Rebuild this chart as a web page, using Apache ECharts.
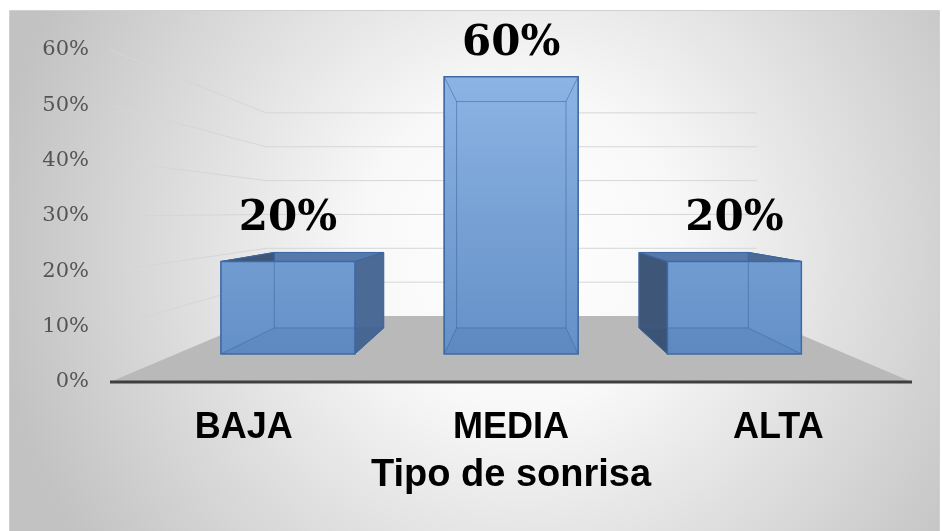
<!DOCTYPE html>
<html><head><meta charset="utf-8">
<script src="https://cdn.jsdelivr.net/npm/echarts@6/dist/echarts.min.js"></script>
<style>html,body{margin:0;padding:0;background:#fff}#c{width:942px;height:531px}</style>
</head><body><div id="c"></div>
<script>
// ---- data ----
const categories = ['BAJA', 'MEDIA', 'ALTA'];
const values = [0.2, 0.6, 0.2];
const yTicks = [0, 0.1, 0.2, 0.3, 0.4, 0.5, 0.6];
const axisTitle = 'Tipo de sonrisa';

// ---- perspective styling ----
const VP = [512, 212];
const S_WALL = 0.612, S_FRONT = 0.835, S_BACK = 0.682;
function proj(p, s) { return [VP[0] + s * (p[0] - VP[0]), VP[1] + s * (p[1] - VP[1])]; }
const pct = v => Math.round(v * 100) + '%';

function renderWall(params, api) {
  const v = api.value(1);
  const cs = params.coordSys;
  const y = api.coord([0, v])[1];
  const xl = cs.x, xr = cs.x + cs.width;
  const bl = proj([xl, y], S_WALL), br = proj([xr, y], S_WALL);
  if (v === 0) {
    return {
      type: 'group', silent: true, children: [
        { type: 'polygon', shape: { points: [[xl, y], [xr, y], br, bl] }, style: { fill: '#b9b9b9' } },
        { type: 'line', shape: { x1: xl, y1: y, x2: xr, y2: y }, style: { stroke: '#3f3f3f', lineWidth: 3 } }
      ]
    };
  }
  return { type: 'polyline', silent: true, shape: { points: [[xl, y], bl, br] }, style: { stroke: '#d6d6d6', lineWidth: 1, fill: null } };
}

function renderBar(params, api) {
  const i = api.value(0), v = api.value(1);
  const base = api.coord([i, 0]), top = api.coord([i, v]);
  const hw = api.size([1, 0])[0] * 0.3;
  const xl = base[0] - hw, xr = base[0] + hw;
  const F = (x, y) => proj([x, y], S_FRONT), B = (x, y) => proj([x, y], S_BACK);
  const fTL = F(xl, top[1]), fTR = F(xr, top[1]), fBL = F(xl, base[1]), fBR = F(xr, base[1]);
  const bTL = B(xl, top[1]), bTR = B(xr, top[1]), bBL = B(xl, base[1]), bBR = B(xr, base[1]);
  const edge = '#3e6aa3';
  const inner = 'rgba(60,100,160,0.55)';
  const grad = new echarts.graphic.LinearGradient(0, 75, 0, 354, [
    { offset: 0, color: '#8db4e3' }, { offset: 1, color: '#6390c8' }
  ], true);
  const ln = (a, b, c, w) => ({ type: 'line', shape: { x1: a[0], y1: a[1], x2: b[0], y2: b[1] }, style: { stroke: c, lineWidth: w } });
  const cx = (fTL[0] + fTR[0]) / 2;
  const ly = Math.min(fTL[1], bTL[1]) - 33;
  return {
    type: 'group', children: [
      { type: 'polygon', shape: { points: [fTL, fTR, bTR, bTL] }, style: { fill: '#5679ab', stroke: edge, lineWidth: 1 } },
      { type: 'polygon', shape: { points: [fTR, bTR, bBR, fBR] }, style: { fill: '#4b6b96', stroke: edge, lineWidth: 1 } },
      { type: 'polygon', shape: { points: [fTL, bTL, bBL, fBL] }, style: { fill: '#3e5677', stroke: edge, lineWidth: 1 } },
      { type: 'polygon', shape: { points: [fTL, fTR, fBR, fBL] }, style: { fill: grad } },
      { type: 'polygon', shape: { points: [fBL, fBR, bBR, bBL] }, style: { fill: 'rgba(20,50,100,0.08)' } },
      { type: 'polygon', shape: { points: [bTL, bTR, bBR, bBL] }, style: { fill: null, stroke: inner, lineWidth: 1 } },
      ln(fTL, bTL, inner, 1), ln(fTR, bTR, inner, 1), ln(fBL, bBL, inner, 1), ln(fBR, bBR, inner, 1),
      { type: 'polygon', shape: { points: [fTL, fTR, fBR, fBL] }, style: { fill: null, stroke: edge, lineWidth: 1.5 } },
      { type: 'text', style: { text: pct(v), x: cx, y: ly, align: 'center', verticalAlign: 'middle', fontFamily: 'DejaVu Serif', fontWeight: 'bold', fontSize: 42, fill: '#000' } }
    ]
  };
}

const chart = echarts.init(document.getElementById('c'), null, { renderer: 'canvas' });
chart.setOption({
  animation: false,
  graphic: [{
    type: 'rect', z: -10, silent: true,
    shape: { x: 9.5, y: 10.5, width: 930, height: 530 },
    style: {
      fill: new echarts.graphic.RadialGradient(0.55, 0.45, 1.0, [
        { offset: 0, color: '#ffffff' }, { offset: 0.3, color: '#f8f8f8' }, { offset: 1, color: '#c2c2c2' }
      ]),
      stroke: '#d0d0d0', lineWidth: 1
    }
  }],
  grid: { left: 110, right: 30, top: 50, bottom: 149, containLabel: false },
  xAxis: {
    type: 'category', data: categories,
    axisLine: { show: false }, axisTick: { show: false }, splitLine: { show: false },
    axisLabel: { margin: 46, verticalAlign: 'middle', fontFamily: 'Liberation Sans', fontWeight: 'bold', fontSize: 36, color: '#000' },
    name: axisTitle, nameLocation: 'middle', nameGap: 75,
    nameTextStyle: { fontFamily: 'Liberation Sans', fontWeight: 'bold', fontSize: 38, lineHeight: 38, color: '#000' }
  },
  yAxis: {
    type: 'value', min: 0, max: 0.6, interval: 0.1,
    axisLine: { show: false }, axisTick: { show: false }, splitLine: { show: false },
    axisLabel: { margin: 21, formatter: pct, fontFamily: 'DejaVu Serif', fontSize: 21, color: '#555555' }
  },
  series: [
    { type: 'custom', z: 1, renderItem: renderWall, encode: { x: 0, y: 1 }, data: yTicks.map(v => [0, v]) },
    { type: 'custom', z: 2, renderItem: renderBar, encode: { x: 0, y: 1 }, data: values.map((v, i) => [i, v]) }
  ]
});
</script></body></html>
